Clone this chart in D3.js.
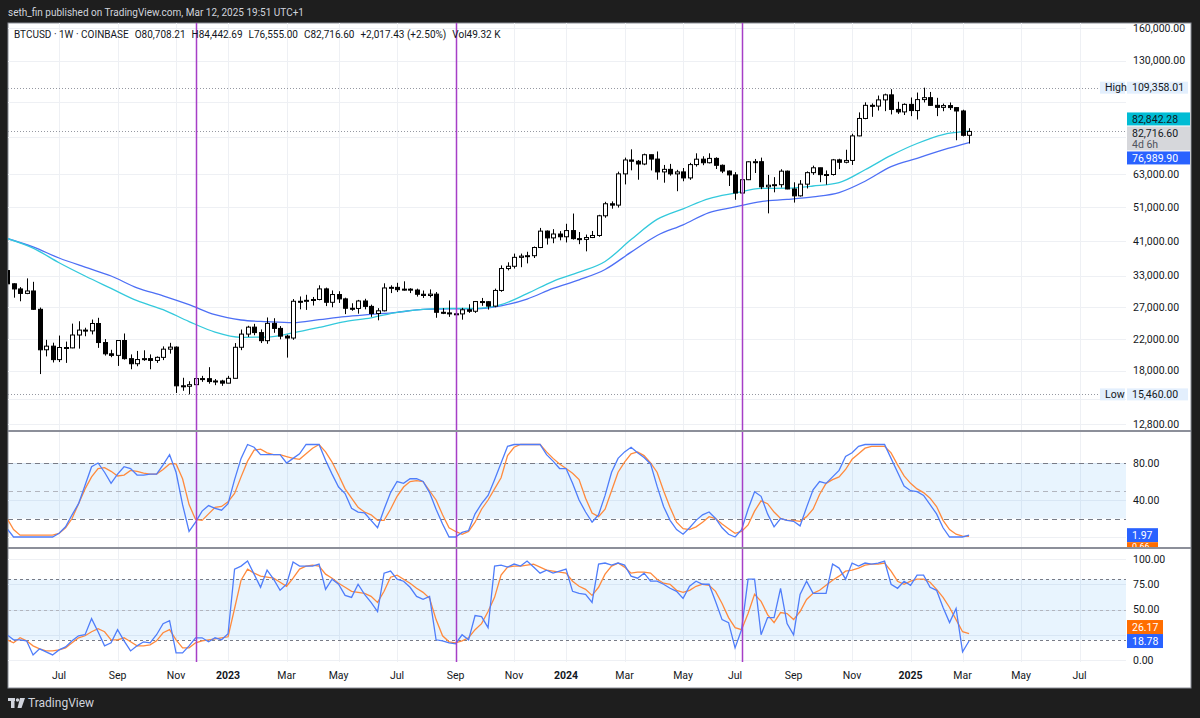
<!DOCTYPE html>
<html>
<head>
<meta charset="utf-8">
<script src="https://cdn.jsdelivr.net/npm/d3@7/dist/d3.min.js"></script>
<style>
  body { margin: 0; background: #1e1e1e; }
  svg { display: block; font-family: Roboto, "Liberation Sans", sans-serif; }
</style>
</head>
<body>
<svg id="chart" width="1200" height="718"></svg>
<script>
// weekly bars, BTCUSD 1W Coinbase, first bar = week of 9 May 2022
const firstWeek = new Date(2022, 4, 9);

const opens = [
  34060, 31300, 30290, 29440, 29900, 26600, 20550, 21030, 19300, 20850,
  20800, 22580, 23300, 23180, 24300, 21520, 20030, 19830, 21800, 19420,
  18800, 19310, 19420, 19200, 19580, 20630, 20900, 16330, 16280, 16450,
  17100, 17090, 16780, 16840, 16610, 17130, 20880, 22710, 23740, 22930,
  21780, 24320, 23550, 22420, 22150, 28000, 27990, 28170, 28320, 30300,
  27820, 29230, 28430, 26780, 26750, 28050, 27100, 25900, 26350, 30480,
  30600, 30150, 30250, 30080, 29280, 29050, 29300, 26100, 26000, 25850,
  25830, 26520, 26270, 27950, 27920, 27150, 30000, 34500, 35000, 37050,
  37350, 37450, 39450, 43800, 41950, 43000, 42250, 43950, 41750, 41550,
  42050, 42600, 48300, 52150, 51700, 63100, 68950, 68400, 67200, 71300,
  69350, 63900, 64950, 63100, 63900, 61500, 66950, 69300, 67750, 69650,
  66650, 64250, 62700, 55850, 60800, 68150, 68200, 58100, 58700, 58900,
  64200, 57300, 54850, 59100, 63600, 65600, 62800, 62850, 69000, 67950,
  68750, 80400, 89850, 97700, 97250, 101150, 104450, 95200, 93700, 98300,
  94500, 101350, 102600, 97700, 96450, 97550, 96300, 94250, 80708.21
];
const highs = [
  34240, 31400, 30650, 32400, 31700, 26900, 21900, 21500, 22500, 21650,
  24280, 24650, 23650, 24920, 25200, 22000, 20550, 21850, 22800, 19950,
  20400, 20480, 19950, 19700, 21000, 21480, 21000, 17190, 16810, 17320,
  17400, 18390, 17050, 16970, 17400, 21450, 23380, 23950, 24250, 23400,
  25250, 25130, 23900, 22620, 28400, 28870, 29180, 28780, 31000, 30550,
  30000, 29850, 28650, 27650, 28250, 28450, 27400, 26800, 31400, 31000,
  31500, 31800, 30430, 30350, 29990, 30200, 29700, 26800, 28150, 26100,
  26850, 27480, 28050, 28600, 28000, 30350, 35200, 35900, 37950, 37950,
  38400, 39700, 44700, 44000, 44350, 43800, 45900, 49000, 43550, 42850,
  43850, 48600, 52800, 52950, 64000, 70000, 73800, 68950, 71800, 71350,
  72800, 66800, 67250, 64750, 65500, 67700, 71950, 70600, 71950, 70150,
  67000, 64500, 63800, 61400, 68350, 69400, 70000, 62700, 61800, 65000,
  64450, 59800, 60650, 64100, 66500, 65600, 64500, 69400, 69500, 73600,
  81500, 93400, 99600, 98900, 104000, 105250, 108300, 99950, 98950, 102700,
  106000, 109358.01, 106400, 102500, 98800, 99500, 96500, 95000, 84442.69
];
const lows = [
  25400, 28650, 28000, 29300, 26500, 17600, 19700, 18950, 19000, 18900,
  20750, 20700, 22400, 22660, 20800, 19800, 19600, 18540, 19300, 18150,
  18500, 19150, 18150, 18900, 19240, 20050, 15600, 15820, 15460, 16050,
  16750, 16550, 16400, 16330, 16600, 17120, 20500, 22300, 22550, 21450,
  21350, 22900, 21970, 19550, 21900, 26600, 26500, 27250, 28170, 27150,
  26950, 27700, 25800, 26350, 25870, 26600, 25350, 24800, 26250, 29500,
  29700, 29950, 29500, 28850, 28600, 28700, 25200, 25800, 25350, 25350,
  24900, 26000, 26000, 27200, 26550, 26950, 29750, 34100, 34500, 34800,
  35650, 36900, 39300, 40200, 40550, 41300, 40750, 41500, 40300, 38500,
  41900, 42250, 47700, 50550, 50900, 59000, 64550, 60800, 66700, 64500,
  60800, 59650, 62400, 56500, 60200, 60750, 66100, 66700, 67450, 65100,
  63400, 58400, 53500, 54250, 60650, 63450, 57250, 49050, 56100, 57850,
  57200, 52550, 54600, 57500, 62700, 59850, 58900, 62450, 65050, 67500,
  66800, 80200, 89400, 90800, 94500, 94150, 92200, 92500, 91850, 91200,
  89250, 99500, 97500, 91200, 94100, 94850, 78200, 80100, 76555
];
const closes = [
  31300, 30290, 29440, 29900, 26600, 20550, 21030, 19300, 20850, 20800,
  22580, 23300, 23180, 24300, 21520, 20030, 19830, 21800, 19420, 18800,
  19310, 19420, 19200, 19580, 20630, 20900, 16330, 16280, 16450, 17100,
  17090, 16780, 16840, 16610, 17130, 20880, 22710, 23740, 22930, 21780,
  24320, 23550, 22420, 22150, 28000, 27990, 28170, 28320, 30300, 27820,
  29230, 28430, 26780, 26750, 28050, 27100, 25900, 26350, 30480, 30600,
  30150, 30250, 30080, 29280, 29050, 29300, 26100, 26000, 25850, 25830,
  26520, 26270, 27950, 27920, 27150, 30000, 34500, 35000, 37050, 37350,
  37450, 39450, 43800, 41950, 43000, 42250, 43950, 41750, 41550, 42050,
  42600, 48300, 52150, 51700, 63100, 68950, 68400, 67200, 71300, 69350,
  63900, 64950, 63100, 63900, 61500, 66950, 69300, 67750, 69650, 66650,
  64250, 62700, 55850, 60800, 68150, 68200, 58100, 58700, 58900, 64200,
  57300, 54850, 59100, 63600, 65600, 62800, 62850, 69000, 67950, 68750,
  80400, 89850, 97700, 97250, 101150, 104450, 95200, 93700, 98300, 94500,
  101350, 102600, 97700, 96450, 97550, 96300, 94250, 80699.17, 82716.60
];
const lastVolume = "49.32 K";
const countdown = "4d 6h";

// moving averages, read every 4th bar
const maBars = [0, 4, 8, 12, 16, 20, 24, 28, 32, 36, 40, 44, 48, 52, 56, 60, 64, 68, 72,
  76, 80, 84, 88, 92, 96, 100, 104, 108, 112, 116, 120, 124, 128, 132, 136, 140, 144, 148];
const fastMa = [41800, 39300, 35800, 32900, 30400, 28100, 26550, 24600, 23000, 22250,
  22280, 22900, 23700, 24600, 25200, 26100, 26600, 26750, 26750, 27400, 29400, 31800,
  33700, 36100, 41500, 47200, 50500, 53900, 55800, 57500, 57600, 58400, 59700, 64800,
  71000, 76600, 81100, 82842.28];
const slowMa = [41800, 39600, 36900, 34800, 32900, 30500, 29000, 27400, 25700, 24850,
  24580, 24420, 24900, 25400, 25750, 26100, 26600, 26700, 26700, 27200, 28400, 30400,
  32100, 34300, 38300, 42600, 45600, 49300, 51100, 52900, 53600, 54500, 56000, 60200,
  66100, 69700, 73500, 76989.90];

// Stoch RSI pane
const srsiK = [
  9, 0, 0, 0, 0, 0, 0, 0, 4, 11,
  24, 36, 56, 76, 80, 70, 58, 68, 76, 74,
  67, 67, 68, 68, 78, 89, 70, 35, 6, 16,
  28, 34, 31, 29, 36, 62, 85, 100, 97, 89,
  89, 89, 89, 80, 85, 90, 100, 100, 100, 83,
  68, 54, 47, 31, 27, 26, 18, 10, 30, 48,
  60, 58, 63, 63, 60, 48, 30, 14, 0, 0,
  5, 7, 25, 36, 45, 62, 80, 98, 100, 100,
  100, 100, 100, 89, 82, 74, 74, 58, 40, 27,
  16, 24, 45, 70, 85, 92, 97, 91, 86, 79,
  55, 33, 18, 8, 3, 10, 18, 24, 27, 20,
  10, 3, 0, 8, 30, 49, 44, 25, 11, 20,
  18, 17, 12, 32, 51, 60, 58, 65, 72, 87,
  91, 98, 100, 100, 100, 100, 85, 70, 55, 50,
  49, 45, 35, 25, 10, 0, 0, 0, 1.97
];
const srsiD = [
  20, 8, 2, 2, 2, 2, 2, 2, 4, 10,
  20, 36, 52, 65, 74, 75, 71, 66, 67, 72,
  71, 69, 68, 68, 73, 79, 79, 63, 35, 19,
  18, 25, 32, 33, 38, 47, 65, 82, 94, 95,
  91, 89, 89, 87, 85, 84, 90, 96, 100, 92,
  81, 67, 52, 42, 32, 27, 24, 18, 18, 30,
  44, 54, 60, 61, 60, 50, 40, 24, 10, 6,
  3, 6, 16, 30, 40, 52, 64, 88, 97, 100,
  100, 100, 100, 92, 85, 79, 74, 69, 62, 42,
  26, 22, 30, 50, 70, 81, 90, 92, 88, 80,
  70, 50, 32, 16, 9, 8, 11, 16, 22, 20,
  14, 9, 4, 6, 13, 28, 39, 36, 27, 20,
  18, 18, 17, 22, 30, 46, 58, 62, 65, 73,
  84, 90, 96, 98, 98, 98, 91, 78, 66, 58,
  52, 48, 42, 33, 18, 8, 3, 1, 0.66
];

// Stochastic pane
const stochK = [
  25, 20, 20, 19, 5, 11, 8, 5, 10, 13,
  19, 24, 25, 41, 28, 14, 17, 30, 19, 9,
  14, 18, 17, 25, 36, 39, 7, 7, 14, 22,
  22, 18, 22, 20, 26, 90, 93, 98, 85, 72,
  89, 80, 69, 75, 97, 93, 93, 93, 95, 70,
  80, 75, 64, 62, 75, 65, 57, 48, 86, 88,
  80, 78, 72, 63, 60, 63, 20, 19, 17, 16,
  25, 20, 44, 43, 32, 93, 94, 92, 95, 93,
  98, 92, 86, 89, 86, 88, 90, 68, 66, 65,
  57, 95, 96, 94, 96, 94, 83, 81, 86, 78,
  78, 75, 71, 68, 61, 73, 78, 75, 75, 58,
  40, 37, 12, 30, 80, 80, 25, 42, 42, 71,
  36, 25, 65, 78, 66, 66, 66, 95, 91, 80,
  96, 93, 96, 95, 96, 98, 75, 71, 78, 74,
  84, 84, 72, 69, 52, 37, 51, 8, 18.78
];
const stochD = [
  20, 17, 22, 19, 14, 11, 9, 9, 10, 12,
  17, 22, 24, 28, 31, 28, 20, 20, 22, 18,
  14, 14, 15, 19, 27, 30, 20, 12, 12, 17,
  19, 20, 21, 22, 23, 51, 79, 90, 86, 83,
  82, 81, 77, 73, 81, 90, 93, 94, 93, 85,
  81, 76, 72, 68, 67, 66, 63, 57, 68, 82,
  84, 80, 76, 71, 67, 61, 40, 24, 18, 17,
  19, 22, 30, 36, 48, 62, 84, 92, 93, 93,
  94, 95, 92, 89, 88, 87, 86, 78, 73, 70,
  64, 72, 85, 93, 96, 92, 86, 87, 87, 86,
  80, 76, 75, 69, 67, 69, 73, 75, 74, 68,
  56, 42, 32, 30, 46, 65, 58, 45, 37, 47,
  46, 40, 48, 60, 66, 69, 74, 79, 83, 88,
  89, 91, 94, 95, 95, 96, 88, 78, 75, 78,
  80, 80, 77, 70, 62, 52, 40, 28, 26.17
];

// vertical markers drawn on the chart
const markerDays = ["2022-11-28", "2023-09-04", "2024-07-08"];

// time axis
const tickDays = ["2022-07-04", "2022-09-05", "2022-11-07", "2023-01-02", "2023-03-06", "2023-05-01",
  "2023-07-03", "2023-09-04", "2023-11-06", "2024-01-01", "2024-03-04", "2024-05-06", "2024-07-01",
  "2024-09-02", "2024-11-04", "2025-01-06", "2025-03-03", "2025-05-05", "2025-07-07"];
const tickNames = ["Jul", "Sep", "Nov", "2023", "Mar", "May", "Jul", "Sep", "Nov", "2024",
  "Mar", "May", "Jul", "Sep", "Nov", "2025", "Mar", "May", "Jul"];

// price axis
const priceTicks = [160000, 130000, 63000, 51000, 41000, 33000, 27000, 22000, 18000, 12800];
const priceGrid = [160000, 130000, 100000, 80000, 63000, 51000, 41000, 33000, 27000, 22000, 18000, 15000, 12800];
const rsiTicks = [80, 40];
const rsiGrid = [0, 40, 80];
const stoTicks = [100, 75, 50, 0];
const stoGrid = [0, 25, 50, 75, 100];

// ---------------------------------------------------------------
const fmt = d3.format(",.2f");
const parseDay = d3.timeParse("%Y-%m-%d");
const ink = "#131722";

const plotL = 8, plotR = 1126, frameR = 1191, axisX = 1133;
const mainTop = 23, mainBot = 430, rsiTop = 432, rsiBot = 547, stoTop = 549, stoBot = 662, frameBot = 688;

var svg = d3.select("#chart");

svg.append("rect").attr("width", 1200).attr("height", 718).attr("fill", "#1e1e1e");

svg.append("text")
  .attr("x", 8).attr("y", 16)
  .attr("fill", "#d1d4dc")
  .style("font-size", "10px")
  .text("seth_fin published on TradingView.com, Mar 12, 2025 19:51 UTC+1");

svg.append("rect")
  .attr("x", plotL).attr("y", mainTop)
  .attr("width", frameR - plotL).attr("height", frameBot - mainTop)
  .attr("fill", "#fff")
  .attr("stroke", "#8a8d96").attr("stroke-width", 1);

var weekDates = d3.range(opens.length).map(i => d3.timeDay.offset(firstWeek, 7 * i));

var x = d3.scaleTime()
  .domain([new Date(2022, 4, 10), new Date(2025, 7, 26)])
  .range([plotL, plotR]);
var y = d3.scaleLog().domain([12800, 160000]).range([424, 28]);
var yRsi = d3.scaleLinear().domain([0, 100]).range([537, 444.5]);
var ySto = d3.scaleLinear().domain([0, 100]).range([660, 559]);

var defs = svg.append("defs");
function clip(id, top, bot) {
  defs.append("clipPath").attr("id", id)
    .append("rect").attr("x", plotL).attr("y", top).attr("width", plotR - plotL).attr("height", bot - top);
}
clip("clipMain", mainTop, mainBot);
clip("clipRsi", rsiTop, rsiBot);
clip("clipSto", stoTop, stoBot);

var gMain = svg.append("g").attr("clip-path", "url(#clipMain)");
var gRsi = svg.append("g").attr("clip-path", "url(#clipRsi)");
var gSto = svg.append("g").attr("clip-path", "url(#clipSto)");

// grid
[[gMain, mainTop, mainBot], [gRsi, rsiTop, rsiBot], [gSto, stoTop, stoBot]].forEach(function (p) {
  p[0].selectAll(".vgrid").data(tickDays).enter().append("line")
    .attr("x1", d => Math.round(x(parseDay(d))) + 0.5)
    .attr("x2", d => Math.round(x(parseDay(d))) + 0.5)
    .attr("y1", p[1]).attr("y2", p[2])
    .attr("stroke", "#eef0f4");
});
function hgrid(g, vals, scale) {
  g.selectAll(".hgrid").data(vals).enter().append("line")
    .attr("x1", plotL).attr("x2", frameR - 64)
    .attr("y1", d => Math.round(scale(d)) + 0.5)
    .attr("y2", d => Math.round(scale(d)) + 0.5)
    .attr("stroke", "#eef0f4");
}
hgrid(gMain, priceGrid, y);
hgrid(gRsi, rsiGrid, yRsi);
hgrid(gSto, stoGrid, ySto);

// main pane: high / low / last price dotted lines
var hi = d3.max(highs), lo = d3.min(lows);
var lastClose = closes[closes.length - 1];
[[hi, 1100], [lo, 1100], [lastClose, plotR]].forEach(function (d) {
  gMain.append("line")
    .attr("x1", plotL).attr("x2", d[1])
    .attr("y1", Math.round(y(d[0])) + 0.5).attr("y2", Math.round(y(d[0])) + 0.5)
    .attr("stroke", "#9598a1").attr("stroke-dasharray", "1,2");
});

// moving averages
var maLine = function (vals) {
  return d3.line()
    .x((d, i) => x(weekDates[maBars[i]]))
    .y(d => y(d))
    .curve(d3.curveMonotoneX)(vals);
};
gMain.append("path").attr("d", maLine(slowMa)).attr("fill", "none").attr("stroke", "#4d6ff5").attr("stroke-width", 1.3);
gMain.append("path").attr("d", maLine(fastMa)).attr("fill", "none").attr("stroke", "#33c9dc").attr("stroke-width", 1.3);

// candles
var step = x(weekDates[1]) - x(weekDates[0]);
var bodyW = Math.round(step * 0.6);
var candles = gMain.selectAll(".candle")
  .data(d3.range(opens.length))
  .enter().append("g").attr("class", "candle");
candles.append("line")
  .attr("x1", i => Math.round(x(weekDates[i])) + 0.5)
  .attr("x2", i => Math.round(x(weekDates[i])) + 0.5)
  .attr("y1", i => y(highs[i]))
  .attr("y2", i => y(lows[i]))
  .attr("stroke", "#000");
candles.append("rect")
  .attr("x", i => Math.round(x(weekDates[i])) + 0.5 - bodyW / 2)
  .attr("y", i => y(Math.max(opens[i], closes[i])))
  .attr("width", bodyW)
  .attr("height", i => Math.max(1, y(Math.min(opens[i], closes[i])) - y(Math.max(opens[i], closes[i]))))
  .attr("fill", i => closes[i] >= opens[i] ? "#fff" : "#000")
  .attr("stroke", "#000").attr("stroke-width", 1);

// oscillator panes
function bands(g, scale, dash) {
  g.append("rect")
    .attr("x", plotL).attr("width", plotR - plotL)
    .attr("y", scale(80)).attr("height", scale(20) - scale(80))
    .attr("fill", "rgba(33,150,243,0.1)");
  [80, 50, 20].forEach(function (v) {
    g.append("line")
      .attr("x1", plotL).attr("x2", plotR)
      .attr("y1", Math.round(scale(v)) + 0.5).attr("y2", Math.round(scale(v)) + 0.5)
      .attr("stroke", v == 50 ? "#b2b5be" : "#787b86")
      .attr("stroke-dasharray", dash);
  });
}
bands(gRsi, yRsi, "5,4");
bands(gSto, ySto, "3,3");

function osc(g, vals, scale, color) {
  g.append("path").datum(vals)
    .attr("fill", "none").attr("stroke", color).attr("stroke-width", 1.3)
    .attr("d", d3.line().x((d, i) => x(weekDates[i])).y(d => scale(d)));
}
osc(gRsi, srsiD, yRsi, "#ff8a3d");
osc(gRsi, srsiK, yRsi, "#4f7dfa");
osc(gSto, stochD, ySto, "#ff8a3d");
osc(gSto, stochK, ySto, "#4f7dfa");

// purple markers
svg.selectAll(".marker").data(markerDays).enter().append("line")
  .attr("x1", d => Math.round(x(parseDay(d))) + 0.5)
  .attr("x2", d => Math.round(x(parseDay(d))) + 0.5)
  .attr("y1", mainTop).attr("y2", stoBot)
  .attr("stroke", "#a63fc7").attr("stroke-width", 1.5);

// pane separators
[431, 548].forEach(function (v) {
  svg.append("line").attr("x1", plotL).attr("x2", frameR)
    .attr("y1", v).attr("y2", v)
    .attr("stroke", "#8c8f99").attr("stroke-width", 2);
});

// legend
var n = opens.length - 1;
var chg = closes[n] - closes[n - 1];
var legend = svg.append("text")
  .attr("x", 14).attr("y", 38)
  .attr("fill", ink).style("font-size", "10px");
legend.append("tspan").text("BTCUSD · 1W · COINBASE");
[["O", fmt(opens[n])], ["H", fmt(highs[n])], ["L", fmt(lows[n])], ["C", fmt(closes[n])],
 ["", (chg >= 0 ? "+" : "") + fmt(chg) + " (" + (chg >= 0 ? "+" : "") + d3.format(".2f")(chg / closes[n - 1] * 100) + "%)"],
 ["Vol", lastVolume]].forEach(function (d) {
  legend.append("tspan").attr("dx", 6).text(d[0] + d[1]);
});

// price axis labels
function axisText(val, yy) {
  svg.append("text").attr("x", axisX).attr("y", yy)
    .attr("dy", "0.35em").attr("fill", ink).style("font-size", "10.5px")
    .text(val);
}
priceTicks.forEach(d => axisText(fmt(d), y(d)));
rsiTicks.forEach(d => axisText(fmt(d), yRsi(d)));
stoTicks.forEach(d => axisText(fmt(d), ySto(d)));

function tag(x0, w, yc, h, fill, label, color) {
  svg.append("rect").attr("x", x0).attr("y", yc - h / 2).attr("width", w).attr("height", h).attr("fill", fill);
  svg.append("text").attr("x", x0 + 5).attr("y", yc).attr("dy", "0.35em")
    .attr("fill", color).style("font-size", "10.5px").text(label);
}
// high / low tags
tag(1100, 25, y(hi), 12, "#e3effd", "High", ink);
tag(1127, 61, y(hi), 12, "#e3effd", fmt(hi), ink);
tag(1100, 25, y(lo), 12, "#e3effd", "Low", ink);
tag(1127, 61, y(lo), 12, "#e3effd", fmt(lo), ink);

// last price box with the two moving average tags pushed around it
var yLast = y(lastClose);
var boxTop = yLast - 5, boxH = 24;
svg.append("rect").attr("x", 1127).attr("y", boxTop).attr("width", 63).attr("height", boxH).attr("fill", "#d6d7db");
svg.append("text").attr("x", 1132).attr("y", boxTop + 7).attr("dy", "0.35em")
  .attr("fill", ink).style("font-size", "10.5px").text(fmt(lastClose));
svg.append("text").attr("x", 1132).attr("y", boxTop + 18).attr("dy", "0.35em")
  .attr("fill", "#50535e").style("font-size", "10.5px").text(countdown);
tag(1127, 63, boxTop - 7.5, 13, "#00bcd4", fmt(fastMa[fastMa.length - 1]), ink);
tag(1127, 63, boxTop + boxH + 7.5, 13, "#2962ff", fmt(slowMa[slowMa.length - 1]), "#fff");

// oscillator value tags
defs.append("clipPath").attr("id", "clipRsiTag")
  .append("rect").attr("x", 1120).attr("y", rsiTop).attr("width", 80).attr("height", rsiBot - rsiTop);
var rk = yRsi(srsiK[n]);
svg.append("rect").attr("x", 1127).attr("y", rk - 7).attr("width", 31).attr("height", 14).attr("fill", "#2962ff");
svg.append("text").attr("x", 1132).attr("y", rk).attr("dy", "0.35em").attr("fill", "#fff").style("font-size", "10.5px").text(fmt(srsiK[n]));
// the D tag sits under the K tag and is cut by the pane edge
var gr = svg.append("g").attr("clip-path", "url(#clipRsiTag)");
gr.append("rect").attr("x", 1127).attr("y", rk + 7).attr("width", 31).attr("height", 14).attr("fill", "#ff6d00");
gr.append("text").attr("x", 1132).attr("y", rk + 12).attr("dy", "0.35em").attr("fill", "#fff").style("font-size", "9px").text(fmt(srsiD[n]));

var sk = ySto(stochK[n]);
svg.append("rect").attr("x", 1127).attr("y", sk - 7).attr("width", 36).attr("height", 14).attr("fill", "#2962ff");
svg.append("text").attr("x", 1132).attr("y", sk).attr("dy", "0.35em").attr("fill", "#fff").style("font-size", "10.5px").text(fmt(stochK[n]));
svg.append("rect").attr("x", 1127).attr("y", sk - 21).attr("width", 36).attr("height", 14).attr("fill", "#ff6d00");
svg.append("text").attr("x", 1132).attr("y", sk - 14).attr("dy", "0.35em").attr("fill", "#fff").style("font-size", "10.5px").text(fmt(stochD[n]));

// time axis
svg.selectAll(".tlabel").data(tickDays).enter().append("text")
  .attr("x", d => x(parseDay(d)))
  .attr("y", 675).attr("dy", "0.35em")
  .attr("text-anchor", "middle")
  .attr("fill", ink)
  .style("font-size", "10.5px")
  .style("font-weight", (d, i) => /^\d/.test(tickNames[i]) ? "bold" : "normal")
  .text((d, i) => tickNames[i]);

// footer logo
var logo = svg.append("g").attr("fill", "#d1d4dc");
logo.append("rect").attr("x", 8).attr("y", 698).attr("width", 7).attr("height", 3);
logo.append("rect").attr("x", 11).attr("y", 698).attr("width", 3.5).attr("height", 10);
logo.append("circle").attr("cx", 17.5).attr("cy", 700).attr("r", 1.7);
logo.append("path").attr("d", "M20,698 L25,698 L21.5,708 L17.5,708 Z");
svg.append("text").attr("x", 28).attr("y", 707)
  .attr("fill", "#d1d4dc").style("font-size", "12px")
  .text("TradingView");
</script>
</body>
</html>
